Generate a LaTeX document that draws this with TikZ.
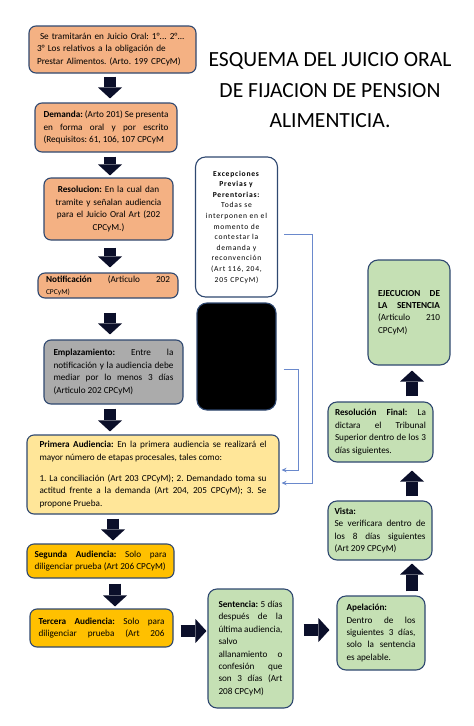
\documentclass[tikz,border=0pt]{standalone}
\usepackage{fontspec}
\setmainfont{Carlito}
\newfontfamily\espaciada[LetterSpace=10]{Carlito}
\usetikzlibrary{arrows.meta}

\definecolor{colNaranja}{HTML}{F4B183}
\definecolor{colGris}{HTML}{ABABAB}
\definecolor{colAmarillo}{HTML}{FFE699}
\definecolor{colOro}{HTML}{FFC000}
\definecolor{colVerde}{HTML}{C5E0B4}
\definecolor{colBorde}{HTML}{2F4870}
\definecolor{colFlecha}{HTML}{0B0F2A}
\definecolor{colEnlace}{HTML}{6A89CC}

\hyphenpenalty=10000
\tolerance=10000
\frenchspacing

\begin{document}
\begin{tikzpicture}[x=1pt,y=-1pt,
    caja/.style = {draw=colBorde, line width=1.1pt, rounded corners=7pt,
      inner xsep=3pt, inner ysep=2pt, align=justify,
      font=\fontsize{9.2}{12.4}\selectfont},
    naranja/.style = {caja, fill=colNaranja},
    gris/.style = {caja, fill=colGris},
    amarillo/.style = {caja, fill=colAmarillo},
    oro/.style = {caja, fill=colOro},
    verde/.style = {caja, fill=colVerde, rounded corners=9pt},
    flecha/.style = {draw=colFlecha, line width=12pt,
      -{Triangle[width=24pt,length=11pt,line width=0pt]}},
    enlace/.style = {draw=colEnlace, line width=0.8pt,
      -{Stealth[length=5pt,width=4.5pt]}}
  ]
  \useasboundingbox (0,0) rectangle (474,726);

  % titulo
  \node[align=center, font=\fontsize{21.6}{30.5}\selectfont] (titulo) at (330,90.5)
    {ESQUEMA DEL JUICIO ORAL\\ DE FIJACION DE PENSION\\ ALIMENTICIA.};

  % columna izquierda
  \node[naranja, align=left, text width=151pt, minimum width=167pt, minimum height=47pt] (tram) at (112.5,49.5)
    {\hspace{3pt}Se tramitarán en Juicio Oral: 1°... 2°...\\ 3° Los relativos a la obligación de\\ Prestar Alimentos. (Arto. 199 CPCyM)};
  \node[naranja, text width=125pt, minimum width=142pt, minimum height=49pt] (dem) at (106,127.5)
    {\textbf{Demanda:} (Arto 201) Se presenta\linebreak en forma oral y por escrito\linebreak (Requisitos: 61, 106, 107 CPCyM};
  \node[naranja, align=center, text width=113pt, minimum width=129pt, minimum height=62pt] (res) at (108.5,209)
    {\textbf{Resolucion:} En la cual dan\\ tramite y señalan audiencia\\ para el Juicio Oral Art (202\\ CPCyM.)};
  \node[naranja, text width=124pt, minimum width=140pt, minimum height=25pt] (notif) at (108,285.5)
    {\textbf{Notificación} (Articulo 202\linebreak {\fontsize{7.5}{9}\selectfont CPCyM)}};
  \node[gris, text width=120pt, minimum width=139pt, minimum height=64pt] (empl) at (113.5,372)
    {\textbf{Emplazamiento:} Entre la\linebreak notificación y la audiencia debe\linebreak mediar por lo menos 3 días\linebreak (Articulo 202 CPCyM)};
  \node[amarillo, text width=227pt, minimum width=252pt, minimum height=79pt] (prim) at (153,474.5)
    {\textbf{Primera Audiencia:} En la primera audiencia se realizará el\linebreak mayor número de etapas procesales, tales como:\par\vspace{8.5pt}
     1. La conciliación (Art 203 CPCyM); 2. Demandado toma su\linebreak actitud frente a la demanda (Art 204, 205 CPCyM); 3. Se\linebreak propone Prueba.};
  \node[oro, text width=132pt, minimum width=147pt, minimum height=34pt] (seg) at (100.5,561)
    {\textbf{Segunda Audiencia:} Solo para\linebreak diligenciar prueba (Art 206 CPCyM)};
  \node[oro, text width=126pt, minimum width=143pt, minimum height=38pt] (terc) at (101.5,628)
    {\textbf{Tercera Audiencia:} Solo para\linebreak diligenciar\hfill prueba\hfill (Art\hfill 206};

  % excepciones
  \node[caja, fill=white, align=center, text width=76pt, minimum width=81pt, minimum height=140pt,
    rounded corners=10pt, font=\espaciada\fontsize{7.6}{10.6}\selectfont] (excep) at (236.5,227)
    {\textbf{Excepciones}\\ \textbf{Previas y}\\ \textbf{Perentorias:}\\ Todas se\\ interponen en el\\ momento de\\
     contestar la\\ demanda y\\ reconvención\\ (Art 116, 204,\\ 205 CPCyM)};
  \node[caja, fill=black, minimum width=79pt, minimum height=107pt, rounded corners=10pt] (negro) at (236.5,356.5) {};

  % columna derecha
  \node[verde, text width=64pt, minimum width=85pt, minimum height=119pt] (sent) at (250.5,648.5)
    {\textbf{Sentencia:} 5 días\linebreak después de la\linebreak última audiencia,\linebreak salvo\newline
     allanamiento o\linebreak confesión que\linebreak son 3 días (Art\linebreak 208 CPCyM)};
  \node[verde, text width=69pt, minimum width=88pt, minimum height=74pt] (apel) at (381,633)
    {\textbf{Apelación:}\newline Dentro de los\linebreak siguientes 3 días,\linebreak solo la sentencia\linebreak es apelable.};
  \node[verde, text width=91pt, minimum width=104pt, minimum height=59pt] (vista) at (380,530.5)
    {\textbf{Vista:}\newline Se verificara dentro de\linebreak los 8 días siguientes\linebreak (Art 209 CPCyM)};
  \node[verde, text width=91pt, minimum width=105pt, minimum height=60pt] (resfin) at (380.5,432)
    {\textbf{Resolución Final:} La\linebreak dictara el Tribunal\linebreak Superior dentro de los 3\linebreak días siguientes.};
  \node[verde, text width=62pt, minimum width=82pt, minimum height=105pt, rounded corners=10pt] (ejec) at (409,312.5)
    {\textbf{EJECUCION DE\linebreak LA SENTENCIA}\linebreak (Articulo 210\linebreak CPCyM)};

  % flechas hacia abajo
  \foreach \a/\b/\x/\s/\e in {tram/dem/110/3pt/4pt, dem/res/110/4pt/2pt, res/notif/110/7pt/5pt,
      notif/empl/110/14pt/5pt, empl/prim/110/4pt/3pt, prim/seg/113/4pt/3pt, seg/terc/115/5pt/2pt}{
      \draw[flecha, shorten <=\s, shorten >=\e] (\x,0 |- \a.south) -- (\x,0 |- \b.north);
    }
  % flechas a la derecha y hacia arriba
  \draw[flecha, shorten <=7pt, shorten >=1pt] (terc.east |- 0,631) -- (sent.west |- 0,631);
  \draw[flecha, shorten <=10pt, shorten >=7pt] (sent.east |- 0,630) -- (apel.west |- 0,630);
  \draw[flecha, shorten <=4pt, shorten >=3pt] (412,0 |- apel.north) -- (412,0 |- vista.south);
  \draw[flecha, shorten <=4pt, shorten >=8pt] (412,0 |- vista.north) -- (412,0 |- resfin.south);
  \draw[flecha, shorten <=5pt, shorten >=5pt] (412,0 |- resfin.north) -- (412,0 |- ejec.south);

  % enlaces a la primera audiencia
  \draw[enlace] ([shift={(6,7)}]excep.east) -- ++(28,0) |- ([shift={(2,8.5)}]prim.east);
  \draw[enlace] ([shift={(7,12.5)}]negro.east) -- ++(15,0) |- ([shift={(2,-4.5)}]prim.east);

\end{tikzpicture}
\end{document}
